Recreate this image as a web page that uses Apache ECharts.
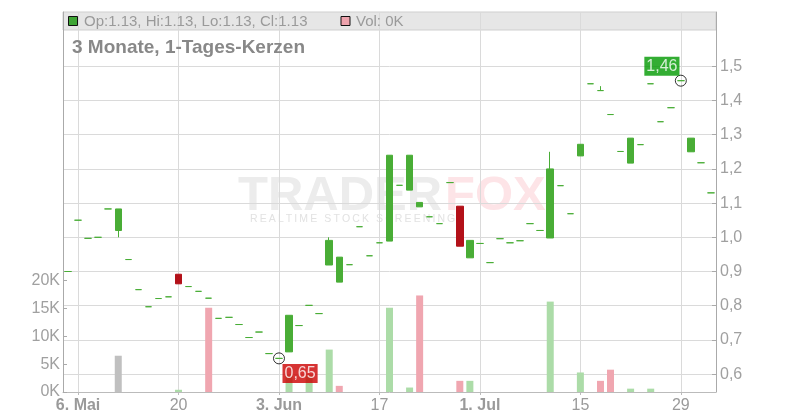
<!DOCTYPE html>
<html><head><meta charset="utf-8">
<script src="https://cdn.jsdelivr.net/npm/echarts@6/dist/echarts.min.js"></script>
<style>html,body{margin:0;padding:0;background:#fff}#c{width:800px;height:420px}</style>
</head><body><div id="c"></div>
<script>
const dates = ['2024-05-03',
 '2024-05-06','2024-05-07','2024-05-08','2024-05-09','2024-05-10',
 '2024-05-13','2024-05-14','2024-05-15','2024-05-16','2024-05-17',
 '2024-05-20','2024-05-21','2024-05-22','2024-05-23','2024-05-24',
 '2024-05-27','2024-05-28','2024-05-29','2024-05-30','2024-05-31',
 '2024-06-03','2024-06-04','2024-06-05','2024-06-06','2024-06-07',
 '2024-06-10','2024-06-11','2024-06-12','2024-06-13','2024-06-14',
 '2024-06-17','2024-06-18','2024-06-19','2024-06-20','2024-06-21',
 '2024-06-24','2024-06-25','2024-06-26','2024-06-27','2024-06-28',
 '2024-07-01','2024-07-02','2024-07-03','2024-07-04','2024-07-05',
 '2024-07-08','2024-07-09','2024-07-10','2024-07-11','2024-07-12',
 '2024-07-15','2024-07-16','2024-07-17','2024-07-18','2024-07-19',
 '2024-07-22','2024-07-23','2024-07-24','2024-07-25','2024-07-26',
 '2024-07-29','2024-07-30','2024-07-31','2024-08-01'];

const opens = [0.90,1.05,0.997,1.00,1.083,1.02,0.935,0.847,0.797,0.821,
 0.826,0.892,0.856,0.842,0.822,0.763,0.766,0.745,0.707,0.723,
 0.660,0.646,0.665,0.742,0.801,0.777,0.919,0.869,0.920,1.031,
 0.946,0.984,0.989,1.152,1.138,1.089,1.060,1.040,1.160,1.091,
 0.940,0.982,0.926,0.996,0.984,0.990,1.040,1.020,0.998,1.151,
 1.069,1.238,1.449,1.429,1.359,1.251,1.217,1.271,1.449,1.338,
 1.379,1.458,1.25,1.218,1.13];
const closes = [0.90,1.05,0.997,1.00,1.083,1.083,0.935,0.847,0.797,0.821,
 0.826,0.864,0.856,0.842,0.822,0.763,0.766,0.745,0.707,0.723,
 0.660,0.646,0.772,0.742,0.801,0.777,0.991,0.942,0.920,1.031,
 0.946,0.984,1.24,1.152,1.24,1.102,1.060,1.040,1.160,0.974,
 0.991,0.982,0.926,0.996,0.984,0.990,1.040,1.020,1.20,1.151,
 1.069,1.272,1.449,1.429,1.359,1.251,1.29,1.271,1.449,1.338,
 1.379,1.458,1.29,1.218,1.13];
const lows = [0.90,1.05,0.997,1.00,1.083,1.00,0.935,0.847,0.797,0.821,
 0.826,0.864,0.856,0.842,0.822,0.763,0.766,0.745,0.707,0.723,
 0.660,0.646,0.665,0.742,0.801,0.777,0.919,0.869,0.920,1.031,
 0.946,0.984,0.989,1.152,1.138,1.089,1.060,1.040,1.160,0.974,
 0.940,0.982,0.926,0.996,0.984,0.990,1.040,1.020,0.998,1.151,
 1.069,1.238,1.449,1.429,1.359,1.251,1.217,1.271,1.449,1.338,
 1.379,1.458,1.25,1.218,1.13];
const highs = [0.90,1.05,0.997,1.00,1.083,1.083,0.935,0.847,0.797,0.821,
 0.826,0.892,0.856,0.842,0.822,0.763,0.766,0.745,0.707,0.723,
 0.660,0.646,0.772,0.742,0.801,0.777,1.00,0.942,0.920,1.031,
 0.946,0.984,1.24,1.152,1.24,1.102,1.060,1.040,1.160,1.091,
 0.991,0.982,0.926,0.996,0.984,0.990,1.040,1.020,1.25,1.151,
 1.069,1.272,1.449,1.442,1.359,1.251,1.29,1.271,1.449,1.338,
 1.379,1.458,1.29,1.218,1.13];
const volumes = [0,0,0,0,0,6500,0,0,0,0,
 0,400,0,0,15100,0,0,0,0,0,
 0,0,3000,0,3000,0,7600,1100,0,0,
 0,0,15100,0,800,17300,0,0,0,2000,
 2000,0,0,0,0,0,0,0,16200,0,
 0,3500,0,2000,4000,0,600,0,600,0,
 0,0,0,0,0];

const tickIdx = [1,11,21,31,41,51,61];
const tickLabels = ['6. Mai','20','3. Jun','17','1. Jul','15','29'];
const boldLabels = ['6. Mai','3. Jun','1. Jul'];
const priceTicks = [0.6,0.7,0.8,0.9,1.0,1.1,1.2,1.3,1.4,1.5];
const volTicks = [0,5000,10000,15000,20000];
const titleText = '3 Monate, 1-Tages-Kerzen';

const FONT = '"Liberation Sans", Arial, sans-serif';
const GREEN = '#49ad36', RED = '#b31119';
const VOL_UP = '#acdca8', VOL_DOWN = '#f0a6b0', VOL_FLAT = '#c0c0c0';
const fmt = v => v.toFixed(2).replace('.', ',');

const candleData = dates.map((d, i) => [opens[i], closes[i], lows[i], highs[i]]);
const volData = volumes.map((v, i) => {
  const prev = i > 0 ? closes[i - 1] : closes[i];
  const c = closes[i] > prev ? VOL_UP : (closes[i] < prev ? VOL_DOWN : VOL_FLAT);
  return { value: v, itemStyle: { color: c } };
});

let lowIdx = 0, highIdx = 0;
lows.forEach((v, i) => { if (v < lows[lowIdx]) lowIdx = i; });
highs.forEach((v, i) => { if (v > highs[highIdx]) highIdx = i; });

const last = dates.length - 1;
const legendText = 'Op:' + opens[last].toFixed(2) + ', Hi:' + highs[last].toFixed(2) +
  ', Lo:' + lows[last].toFixed(2) + ', Cl:' + closes[last].toFixed(2);
const volText = 'Vol: ' + Math.round(volumes[last] / 1000) + 'K';
const wm2 = 'REALTIME STOCK SCREENING'.split('').join('\u2009');

const chart = echarts.init(document.getElementById('c'), null, { renderer: 'canvas' });
const option = {
  animation: false,
  backgroundColor: '#fff',
  textStyle: { fontFamily: FONT },
  grid: { left: 63, right: 84, top: 12, bottom: 28 },
  graphic: [
    { type: 'rect', z: -10, shape: { x: 63, y: 12, width: 653, height: 18 },
      style: { fill: '#e6e6e6', stroke: '#cfcfcf', lineWidth: 1 } },
    { type: 'text', z: -5, x: 238, y: 196, style: { text: 'TRADER', fill: '#ececec',
      font: 'bold 49px ' + FONT, verticalAlign: 'middle' } },
    { type: 'text', z: -5, x: 445, y: 196, style: { text: 'FOX', fill: '#fde4e7',
      font: 'bold 49px ' + FONT, verticalAlign: 'middle' } },
    { type: 'text', z: -5, x: 250, y: 219, style: { text: wm2, fill: '#e2e2e2',
      font: '10.5px ' + FONT, verticalAlign: 'middle' } },
    { type: 'rect', z: 10, shape: { x: 68.5, y: 16.5, width: 9, height: 9 },
      style: { fill: '#3fa535', stroke: '#111', lineWidth: 1 } },
    { type: 'text', z: 10, x: 84, y: 21.5, style: { text: legendText, fill: '#9a9a9a',
      font: '15px ' + FONT, verticalAlign: 'middle' } },
    { type: 'rect', z: 10, shape: { x: 341, y: 16.5, width: 9, height: 9 },
      style: { fill: '#eea3ad', stroke: '#111', lineWidth: 1 } },
    { type: 'text', z: 10, x: 356, y: 21.5, style: { text: volText, fill: '#9a9a9a',
      font: '15px ' + FONT, verticalAlign: 'middle' } },
    { type: 'text', z: 10, x: 72, y: 48, style: { text: titleText, fill: '#888',
      font: 'bold 19px ' + FONT, verticalAlign: 'middle' } }
  ],
  xAxis: [
    { type: 'category', data: dates, boundaryGap: true, show: false },
    { type: 'value', min: -0.5, max: 64.5, position: 'bottom',
      axisLine: { show: true, onZero: false, lineStyle: { color: '#bbb' } },
      axisTick: { show: true, customValues: tickIdx, length: 3, lineStyle: { color: '#bbb' } },
      axisLabel: { customValues: tickIdx, margin: 6, color: '#9a9a9a', fontSize: 16, fontFamily: FONT,
        formatter: v => {
          const k = tickIdx.indexOf(Math.round(v));
          if (k < 0) return '';
          const t = tickLabels[k];
          return boldLabels.indexOf(t) >= 0 ? '{b|' + t + '}' : t;
        },
        rich: { b: { fontWeight: 'bold', fontSize: 16, color: '#9a9a9a', fontFamily: FONT } } },
      splitLine: { show: true, lineStyle: { color: '#dadada' } }
    }
  ],
  yAxis: [
    { type: 'value', position: 'right', min: 0.5477, max: 1.6588,
      axisLine: { show: true, onZero: false, lineStyle: { color: '#aaa' } },
      axisTick: { show: true, inside: true, length: 4, customValues: priceTicks, lineStyle: { color: '#aaa' } },
      axisLabel: { customValues: priceTicks, margin: 4, color: '#a0a0a0', fontSize: 16, fontFamily: FONT,
        formatter: v => v.toFixed(1).replace('.', ',') },
      splitLine: { show: true, lineStyle: { color: '#dadada' } }
    },
    { type: 'value', position: 'left', min: 0, max: 68100,
      axisLine: { show: true, onZero: false, lineStyle: { color: '#aaa' } },
      axisTick: { show: true, inside: true, length: 4, customValues: volTicks, lineStyle: { color: '#aaa' } },
      axisLabel: { customValues: volTicks, margin: 3, color: '#a0a0a0', fontSize: 16, fontFamily: FONT,
        formatter: v => (v / 1000) + 'K' },
      splitLine: { show: false }
    }
  ],
  series: [
    { type: 'bar', name: 'Vol', xAxisIndex: 0, yAxisIndex: 1, barWidth: 7, data: volData, z: 1 },
    { type: 'candlestick', name: 'Kurs', xAxisIndex: 0, yAxisIndex: 0, barWidth: 7, data: candleData, z: 2,
      itemStyle: { color: GREEN, color0: RED, borderColor: GREEN, borderColor0: RED,
        borderColorDoji: GREEN, borderWidth: 1 } },
    { type: 'scatter', xAxisIndex: 0, yAxisIndex: 0, symbol: 'circle', symbolSize: 11, z: 5,
      itemStyle: { color: 'rgba(0,0,0,0)', borderColor: '#000', borderWidth: 1 },
      data: [
        { value: [lowIdx, lows[lowIdx]],
          label: { show: true, position: [9.5, 11.5], formatter: fmt(lows[lowIdx]),
            backgroundColor: '#cc0000', color: '#fff', fontSize: 16, fontFamily: FONT,
            padding: [1, 2, 1, 2], lineHeight: 17 } },
        { value: [highIdx, highs[highIdx]],
          label: { show: true, position: [-30.5, -18], formatter: fmt(highs[highIdx]),
            backgroundColor: '#009900', color: '#fff', fontSize: 16, fontFamily: FONT,
            padding: [1, 2, 1, 2], lineHeight: 17 } }
      ] }
  ]
};
chart.setOption(option);
</script></body></html>
